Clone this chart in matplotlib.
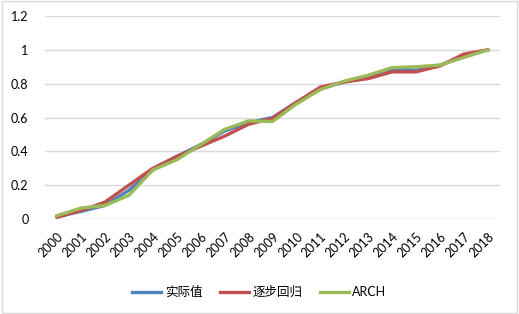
import matplotlib

matplotlib.use("Agg")
import matplotlib.pyplot as plt
from matplotlib.patches import Rectangle

plt.rcParams["font.family"] = ["Lato", "Noto Sans CJK SC", "DejaVu Sans"]

years = [str(y) for y in range(2000, 2019)]
actual = [0.015, 0.045, 0.08, 0.17, 0.29, 0.37, 0.44, 0.52, 0.57, 0.60,
          0.69, 0.77, 0.81, 0.84, 0.885, 0.88, 0.91, 0.96, 1.0]
stepwise = [0.01, 0.05, 0.10, 0.20, 0.30, 0.37, 0.43, 0.49, 0.56, 0.595,
            0.69, 0.78, 0.81, 0.83, 0.87, 0.87, 0.905, 0.975, 1.0]
arch = [0.02, 0.065, 0.08, 0.14, 0.29, 0.35, 0.44, 0.53, 0.58, 0.576,
        0.68, 0.765, 0.815, 0.85, 0.895, 0.90, 0.91, 0.955, 1.0]
series_names = ["实际值", "逐步回归", "ARCH"]
colors = ["#4F81BD", "#C0504D", "#9BBB59"]

fig = plt.figure(figsize=(5.19, 3.14), dpi=100)
fig.patches.append(Rectangle((0.003, 0.003), 0.994, 0.994, transform=fig.transFigure,
                             fill=False, edgecolor="#D9D9D9", linewidth=1.0))
ax = fig.add_axes([0.087, 0.3025, 0.876, 0.6465])

x = list(range(len(years)))
for vals, name, c in zip([actual, stepwise, arch], series_names, colors):
    ax.plot(x, vals, color=c, linewidth=2.4, label=name, solid_joinstyle="round")

ax.set_xlim(-0.5, len(years) - 0.5)
ax.set_ylim(0, 1.2)
ax.set_yticks([0, 0.2, 0.4, 0.6, 0.8, 1.0, 1.2])
ax.set_yticklabels(["0", "0.2", "0.4", "0.6", "0.8", "1", "1.2"])
ax.set_xticks(x)
ax.set_xticklabels(years, rotation=45, ha="right", va="top", rotation_mode="anchor")
ax.tick_params(axis="both", length=0, labelsize=9, colors="#000000")
ax.tick_params(axis="x", pad=8)
ax.tick_params(axis="y", pad=12)
ax.grid(axis="y", color="#D9D9D9", linewidth=1.0)
ax.set_axisbelow(True)
for s in ax.spines.values():
    s.set_visible(False)

fig.legend(loc="center", bbox_to_anchor=(0.5, 0.07), ncol=3, frameon=False,
           fontsize=9, handlelength=2.3, columnspacing=1.4, handletextpad=0.3)

fig.savefig("out.png", dpi=100)
